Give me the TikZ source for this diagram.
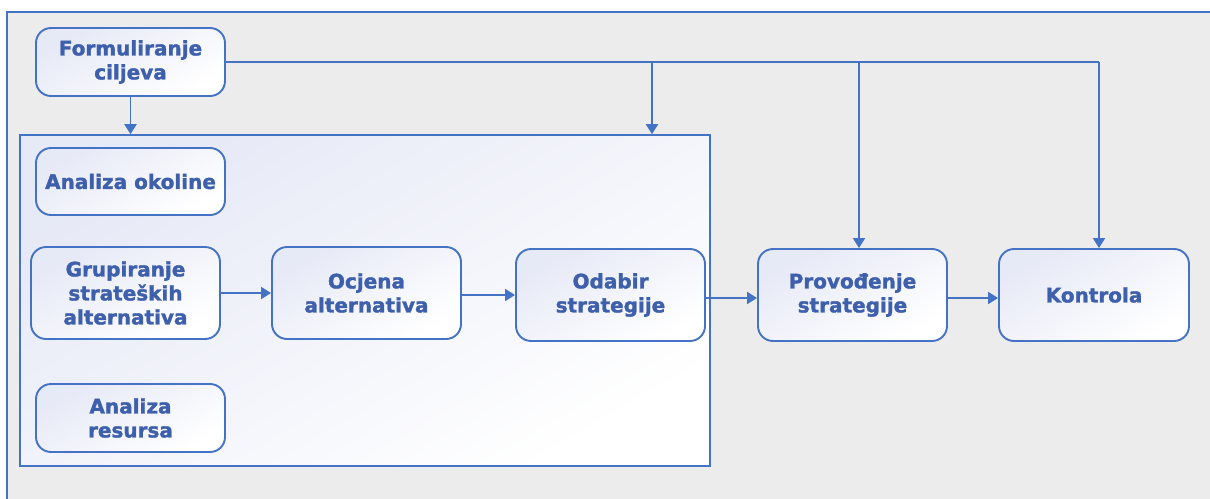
\documentclass[tikz,border=0pt]{standalone}
\usepackage{fontspec}
\setmainfont{DejaVu Sans}
\newfontfamily\heavyfont[FakeBold=1.6]{DejaVu Sans Bold}
\usetikzlibrary{arrows.meta}
\definecolor{bgray}{RGB}{236,236,236}
\definecolor{lblue}{RGB}{68,114,196}
\definecolor{tblue}{RGB}{62,96,172}
\definecolor{lav}{RGB}{230,233,246}
\begin{document}
\begin{tikzpicture}[x=1pt,y=-1pt,
  stepbox/.style={rectangle, rounded corners=15pt, draw=lblue, line width=1.9pt,
    left color=lav, right color=white, shading angle=30,
    minimum width=189pt, align=center, text=tblue,
    font=\heavyfont\fontsize{20}{24}\selectfont, inner sep=0pt},
  arr/.style={draw=lblue, line width=1.9pt, -{Triangle[length=10pt,width=12pt]}},
  ln/.style={draw=lblue, line width=1.9pt}]
\useasboundingbox (0,0) rectangle (1210,498);
\fill[bgray] (7,12) rectangle (1212,500);
\draw[lblue, line width=1.6pt] (1212,12) -- (7,12) -- (7,500);
% container
\node[draw=lblue, line width=1.6pt, left color=lav, right color=white, shading angle=30,
  minimum width=690pt, minimum height=331pt, inner sep=0pt] (cont) at (365,300.5) {};
% boxes
\node[stepbox, minimum height=68pt] (form) at (130.5,62) {Formuliranje\\ciljeva};
\node[stepbox, minimum height=67pt] (okol) at (130.5,181.5) {Analiza okoline};
\node[stepbox, minimum height=92pt] (grup) at (125.5,293) {Grupiranje\\strateških\\alternativa};
\node[stepbox, minimum height=92pt] (ocj) at (366.5,293) {Ocjena\\alternativa};
\node[stepbox, minimum height=92pt] (odab) at (610.5,295) {Odabir\\strategije};
\node[stepbox, minimum height=92pt] (prov) at (852.5,295) {Provođenje\\strategije};
\node[stepbox, minimum height=92pt, minimum width=190pt] (kon) at (1094,295) {Kontrola};
\node[stepbox, minimum height=68pt] (res) at (130.5,418) {Analiza\\resursa};
% connectors
\coordinate (t1) at (652,62);
\coordinate (t2) at (859,62);
\coordinate (t3) at (1099,62);
\draw[arr] (form.south) -- (form.south |- cont.north);
\draw[ln] (form.east) -- (t3);
\draw[arr] (t3) -- (t3 |- kon.north);
\draw[arr] (t1) -- (t1 |- cont.north);
\draw[arr] (t2) -- (t2 |- prov.north);
\draw[arr] (grup.east) -- (ocj.west);
\draw[arr] ([yshift=-2pt]ocj.east) -- ([yshift=-2pt]ocj.east -| odab.west);
\draw[arr] ([yshift=-3pt]odab.east) -- ([yshift=-3pt]prov.west);
\draw[arr] ([yshift=-3pt]prov.east) -- ([yshift=-3pt]kon.west);
\end{tikzpicture}
\end{document}
